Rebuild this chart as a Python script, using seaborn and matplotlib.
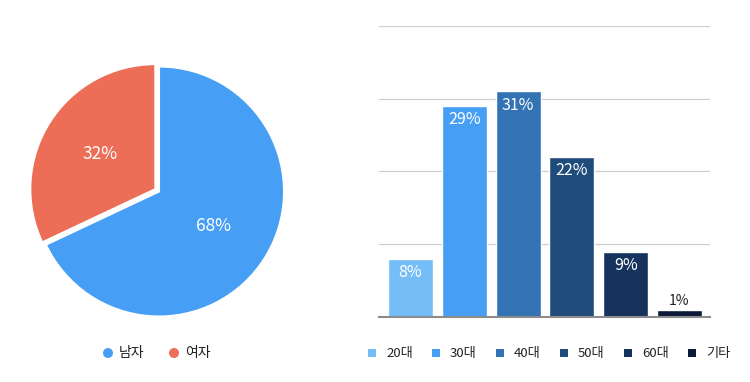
import matplotlib
matplotlib.use("Agg")
import matplotlib.pyplot as plt
import seaborn as sns
import pandas as pd
from matplotlib.patches import Rectangle, Ellipse

sns.set_theme(style="white")
plt.rcParams['font.family'] = ['Noto Sans CJK KR', 'DejaVu Sans']

# Data
gender_labels = ["남자", "여자"]
gender_values = [68, 32]
gender_colors = ["#479FF5", "#EC6E56"]

age_labels = ["20대", "30대", "40대", "50대", "60대", "기타"]
age_values = [8, 29, 31, 22, 9, 1]
age_colors = ["#74BDF7", "#479FF5", "#3373B4", "#204C7C", "#16335D", "#0B1A36"]

W, H = 750, 382
fig = plt.figure(figsize=(7.5, 3.82), dpi=100)

# ---- Pie ----
r_px = 125
cx, cy = 159, H - 191.5
side = 2.2 * r_px
axp = fig.add_axes([(cx - side / 2) / W, (cy - side / 2) / H, side / W, side / H])
wedges, texts, autotexts = axp.pie(
    gender_values, colors=gender_colors, startangle=90, counterclock=False,
    explode=[0, 0.035], autopct=lambda p: f"{p:.0f}%", pctdistance=0.52,
    wedgeprops=dict(edgecolor="white", linewidth=1.5),
    textprops=dict(color="white", fontsize=12.5))
axp.set_xlim(-1.1, 1.1)
axp.set_ylim(-1.1, 1.1)
axp.set_aspect("equal")
axp.axis("off")

# ---- Bars ----
axb = fig.add_axes([379 / W, (H - 317) / H, 331 / W, 291 / H])
df = pd.DataFrame({"age": age_labels, "value": age_values})
sns.barplot(data=df, x="age", y="value", hue="age", palette=age_colors,
            order=age_labels, hue_order=age_labels, legend=False, width=0.836,
            dodge=False, saturation=1, ax=axb, zorder=3)
axb.set_xlim(-0.585, 5.567)
axb.set_ylim(0, 40)
axb.set_yticks([0, 10, 20, 30, 40])
axb.yaxis.grid(True, color="#cfcfcf", linewidth=0.9, zorder=0)
axb.set_axisbelow(True)
axb.set_xlabel("")
axb.set_ylabel("")
axb.set_xticks([])
axb.tick_params(left=False, labelleft=False)
for s in ["left", "right", "top"]:
    axb.spines[s].set_visible(False)
axb.spines["bottom"].set_color("#8c8c8c")
axb.spines["bottom"].set_linewidth(1.5)
axb.spines["bottom"].set_zorder(5)

for i, v in enumerate(age_values):
    if v >= 5:
        axb.annotate(f"{v}%", xy=(i, v), xytext=(0, -10), textcoords="offset points",
                     ha="center", va="center", color="white", fontsize=11.5, zorder=6)
    else:
        axb.annotate(f"{v}%", xy=(i, v), xytext=(0, 6), textcoords="offset points",
                     ha="center", va="center", color="#222222", fontsize=10, zorder=6)

# ---- Legends (manual, figure pixel layout) ----
ly = H - 353
# pie legend
pie_x0, pie_step = 108, 66
for i, (lab, col) in enumerate(zip(gender_labels, gender_colors)):
    x = pie_x0 + i * pie_step
    fig.patches.append(Ellipse((x / W, ly / H), 10 / W, 10 / H, facecolor=col,
                               edgecolor="none", transform=fig.transFigure))
    fig.text((x + 11) / W, ly / H, lab, ha="left", va="center", fontsize=10,
             color="#222222")
# bar legend
bar_x0, bar_step = 368, 64
for i, (lab, col) in enumerate(zip(age_labels, age_colors)):
    x = bar_x0 + i * bar_step
    fig.patches.append(Rectangle((x / W, (ly - 4) / H), 8 / W, 8 / H, facecolor=col,
                                 edgecolor="none", transform=fig.transFigure))
    fig.text((x + 18) / W, ly / H, lab, ha="left", va="center", fontsize=9.5,
             color="#222222")

fig.savefig("out.png", dpi=100, facecolor="white")
